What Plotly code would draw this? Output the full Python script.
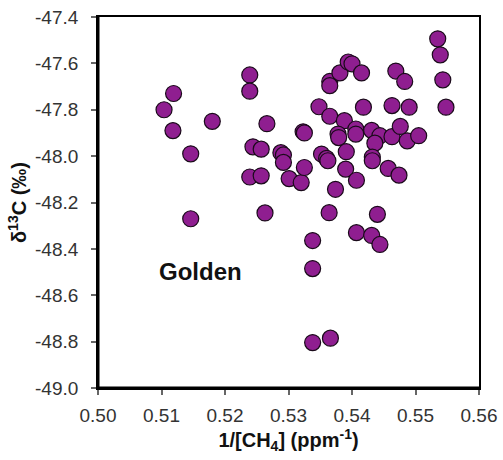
import plotly.graph_objects as go

inv_ch4 = [0.5104, 0.5119, 0.5118, 0.5146, 0.5180, 0.5146, 0.5239, 0.5239, 0.5266, 0.5244,
           0.5257, 0.5239, 0.5257, 0.5263, 0.5288, 0.5292, 0.5292, 0.5301, 0.5320, 0.5325,
           0.5323, 0.5325, 0.5338, 0.5338, 0.5338, 0.5366, 0.5348, 0.5352, 0.5360, 0.5362,
           0.5364, 0.5374, 0.5365, 0.5365, 0.5365, 0.5381, 0.5394, 0.5400, 0.5415, 0.5388,
           0.5378, 0.5379, 0.5406, 0.5406, 0.5391, 0.5390, 0.5407, 0.5418, 0.5431, 0.5444,
           0.5436, 0.5432, 0.5432, 0.5407, 0.5431, 0.5444, 0.5440, 0.5457, 0.5474, 0.5463,
           0.5490, 0.5469, 0.5483, 0.5463, 0.5476, 0.5487, 0.5505, 0.5535, 0.5539, 0.5543,
           0.5548]
d13c = [-47.80, -47.73, -47.89, -47.99, -47.85, -48.27, -47.65, -47.72, -47.86, -47.96,
        -47.97, -48.09, -48.085, -48.245, -47.985, -47.995, -48.027, -48.097, -48.114, -48.049,
        -47.895, -47.90, -48.364, -48.485, -48.804, -48.785, -47.787, -47.991, -48.010, -48.02,
        -48.244, -48.143, -47.678, -47.696, -47.828, -47.641, -47.594, -47.602, -47.641, -47.847,
        -47.905, -47.92, -47.883, -47.905, -47.981, -48.056, -48.104, -47.789, -47.889, -47.912,
        -47.944, -48.004, -48.020, -48.330, -48.342, -48.381, -48.251, -48.053, -48.082, -47.782,
        -47.789, -47.633, -47.678, -47.916, -47.872, -47.934, -47.912, -47.494, -47.563, -47.671,
        -47.789]

x_ticks = [0.50, 0.51, 0.52, 0.53, 0.54, 0.55, 0.56]
y_ticks = [-49.0, -48.8, -48.6, -48.4, -48.2, -48.0, -47.8, -47.6, -47.4]

fig = go.Figure()
fig.add_trace(go.Scatter(
    x=inv_ch4, y=d13c, mode="markers",
    marker=dict(size=16, color="#8f1e90", line=dict(color="#1a0a1a", width=1.2)),
    showlegend=False,
))

fig.add_annotation(x=0.5162, y=-48.497, text="<b>Golden</b>", showarrow=False,
                   font=dict(family="Liberation Sans, Arial", size=24, color="#111111"))

# heavier left and bottom spines
fig.add_shape(type="line", xref="paper", yref="paper", x0=0, x1=0, y0=0, y1=1,
              line=dict(color="black", width=3))
fig.add_shape(type="line", xref="paper", yref="paper", x0=0, x1=1, y0=0, y1=0,
              line=dict(color="black", width=3))

fig.update_layout(
    width=503, height=460,
    margin=dict(l=98, r=24, t=17, b=72),
    paper_bgcolor="white", plot_bgcolor="white",
    font=dict(family="Liberation Sans, Arial", size=19, color="#333333"),
)
fig.update_xaxes(
    range=[0.50, 0.56], tickvals=x_ticks, ticktext=[f"{v:.2f}" for v in x_ticks],
    showgrid=False, zeroline=False, showline=True, linecolor="black", linewidth=1.8,
    mirror=True, ticks="outside", ticklen=5, tickcolor="#666666", tickwidth=1.5,
    ticklabelstandoff=4, automargin=False, ticklabeloverflow="allow",
    title=dict(text="<b>1/[CH<sub>4</sub>] (ppm<sup>-1</sup>)</b>",
               font=dict(size=20, color="#111111"), standoff=4),
)
fig.update_yaxes(
    range=[-49.0, -47.4], tickvals=y_ticks, ticktext=[f"{v:.1f}" for v in y_ticks],
    showgrid=False, zeroline=False, showline=True, linecolor="black", linewidth=1.8,
    mirror=True, ticks="outside", ticklen=5, tickcolor="#666666", tickwidth=1.5,
    ticklabelstandoff=9, automargin=False, ticklabeloverflow="allow",
    title=dict(text="<b>δ<sup>13</sup>C (‰)</b>",
               font=dict(size=20, color="#111111"), standoff=3),
)

fig.write_html("out.html", config={"displayModeBar": False},
               post_script="document.body.style.margin='0';document.body.style.overflow='hidden';")
